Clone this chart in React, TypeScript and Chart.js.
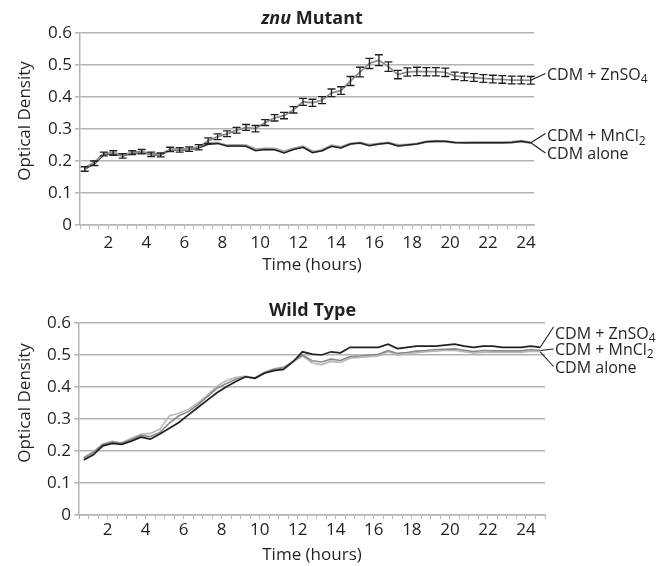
import React, { useEffect, useRef } from 'react';
import { Chart, registerables } from 'chart.js';

Chart.register(...registerables);

const FONT = '"Open Sans", "Noto Sans", sans-serif';
const INK = '#231f20';
const GRID = '#b4b4b4';

// ---------- znu Mutant (top panel) ----------
const znuTimes = [
  0.75, 1.25, 1.75, 2.25, 2.75, 3.25, 3.75, 4.25, 4.75, 5.25,
  5.75, 6.25, 6.75, 7.25, 7.75, 8.25, 8.75, 9.25, 9.75, 10.25,
  10.75, 11.25, 11.75, 12.25, 12.75, 13.25, 13.75, 14.25, 14.75, 15.25,
  15.75, 16.25, 16.75, 17.25, 17.75, 18.25, 18.75, 19.25, 19.75, 20.25,
  20.75, 21.25, 21.75, 22.25, 22.75, 23.25, 23.75, 24.25,
];
const znuZnSO4 = [
  0.175, 0.193, 0.222, 0.225, 0.216, 0.226, 0.229, 0.221, 0.219, 0.236,
  0.235, 0.237, 0.243, 0.263, 0.276, 0.285, 0.296, 0.305, 0.301, 0.32,
  0.335, 0.342, 0.36, 0.385, 0.382, 0.39, 0.413, 0.42, 0.45, 0.478,
  0.505, 0.515, 0.495, 0.47, 0.478, 0.48, 0.479, 0.479, 0.477, 0.466,
  0.463, 0.461, 0.458, 0.456, 0.455, 0.453, 0.453, 0.452,
];
const znuZnSO4Err = [
  0.007, 0.007, 0.006, 0.007, 0.007, 0.006, 0.007, 0.007, 0.006, 0.007,
  0.007, 0.007, 0.008, 0.009, 0.009, 0.009, 0.009, 0.009, 0.01, 0.009,
  0.01, 0.01, 0.01, 0.011, 0.011, 0.011, 0.012, 0.012, 0.014, 0.015,
  0.016, 0.017, 0.015, 0.013, 0.013, 0.013, 0.013, 0.013, 0.013, 0.012,
  0.012, 0.012, 0.012, 0.012, 0.012, 0.012, 0.012, 0.012,
];
const znuMnCl2 = [
  0.178, 0.195, 0.222, 0.225, 0.218, 0.226, 0.228, 0.222, 0.22, 0.236,
  0.236, 0.238, 0.243, 0.255, 0.256, 0.248, 0.249, 0.248, 0.236, 0.238,
  0.238, 0.229, 0.238, 0.245, 0.229, 0.233, 0.248, 0.243, 0.254, 0.257,
  0.25, 0.254, 0.257, 0.249, 0.251, 0.254, 0.26, 0.262, 0.261, 0.258,
  0.257, 0.258, 0.258, 0.258, 0.258, 0.259, 0.262, 0.257,
];
const znuAlone = [
  0.175, 0.19, 0.22, 0.223, 0.216, 0.224, 0.227, 0.221, 0.219, 0.235,
  0.234, 0.236, 0.241, 0.252, 0.255, 0.247, 0.247, 0.246, 0.232, 0.236,
  0.235, 0.225, 0.236, 0.243, 0.226, 0.232, 0.246, 0.241, 0.253, 0.256,
  0.248, 0.253, 0.256, 0.247, 0.25, 0.253, 0.26, 0.262, 0.262, 0.258,
  0.257, 0.257, 0.257, 0.257, 0.257, 0.258, 0.262, 0.257,
];

// ---------- Wild Type (bottom panel) ----------
const wtTimes = [
  0.75, 1.25, 1.75, 2.25, 2.75, 3.25, 3.75, 4.25, 4.75, 5.25,
  5.75, 6.25, 6.75, 7.25, 7.75, 8.25, 8.75, 9.25, 9.75, 10.25,
  10.75, 11.25, 11.75, 12.25, 12.75, 13.25, 13.75, 14.25, 14.75, 15.25,
  15.75, 16.25, 16.75, 17.25, 17.75, 18.25, 18.75, 19.25, 19.75, 20.25,
  20.75, 21.25, 21.75, 22.25, 22.75, 23.25, 23.75, 24.25, 24.75,
];
const wtZnSO4 = [
  0.172, 0.188, 0.216, 0.224, 0.221, 0.231, 0.243, 0.237, 0.253, 0.271,
  0.289, 0.313, 0.336, 0.359, 0.382, 0.401, 0.417, 0.432, 0.427, 0.443,
  0.451, 0.455, 0.479, 0.51, 0.503, 0.5, 0.51, 0.507, 0.524, 0.524,
  0.524, 0.524, 0.534, 0.52, 0.524, 0.528, 0.528, 0.528, 0.531, 0.534,
  0.528, 0.524, 0.528, 0.528, 0.524, 0.524, 0.524, 0.528, 0.524,
];
const wtMnCl2 = [
  0.178, 0.195, 0.22, 0.228, 0.224, 0.236, 0.248, 0.245, 0.258, 0.287,
  0.31, 0.323, 0.344, 0.37, 0.396, 0.411, 0.424, 0.432, 0.428, 0.445,
  0.455, 0.46, 0.48, 0.5, 0.482, 0.478, 0.487, 0.483, 0.495, 0.497,
  0.5, 0.502, 0.514, 0.505, 0.508, 0.512, 0.514, 0.517, 0.518, 0.519,
  0.515, 0.511, 0.514, 0.513, 0.513, 0.513, 0.513, 0.517, 0.514,
];
const wtAlone = [
  0.18, 0.198, 0.222, 0.23, 0.226, 0.24, 0.252, 0.255, 0.268, 0.31,
  0.318, 0.33, 0.35, 0.375, 0.403, 0.42, 0.43, 0.434, 0.428, 0.446,
  0.457, 0.462, 0.478, 0.497, 0.475, 0.47, 0.48, 0.477, 0.49, 0.492,
  0.495, 0.497, 0.51, 0.5, 0.503, 0.507, 0.51, 0.512, 0.514, 0.514,
  0.51, 0.506, 0.508, 0.508, 0.508, 0.508, 0.508, 0.512, 0.51,
];

// Series label text: main part + subscript
const ZN = { main: 'CDM + ZnSO', sub: '4' };
const MN = { main: 'CDM + MnCl', sub: '2' };
const ALONE = { main: 'CDM alone', sub: '' };
const yMax = 0.6;
const yStep = 0.1;

type Label = { main: string; sub: string };
type EndLabel = { idx: number; label: Label; textY: number; leaderY: number };
type PanelCfg = {
  width: number;
  height: number;
  top: number;
  plotLeft: number;
  plotRight: number;
  plotTop: number;
  plotBottom: number;
  xMax: number;
  titleParts: { text: string; italic: boolean }[];
  titleX: number;
  titleY: number;
  yTitleX: number;
  yTitleY: number;
  xTitleX: number;
  xTitleY: number;
  xTickPad: number;
  labelGap: number;
  times: number[];
  series: { values: number[]; color: string; width: number }[];
  err?: { idx: number; values: number[] };
  endLabels: EndLabel[];
};

function makeDecor(cfg: PanelCfg) {
  return {
    id: 'decor',
    afterDatasetsDraw(chart: any) {
      const ctx = chart.ctx as CanvasRenderingContext2D;
      if (cfg.err) {
        const meta = chart.getDatasetMeta(cfg.err.idx);
        const ys = chart.scales.y;
        const vals = cfg.series[cfg.err.idx].values;
        ctx.save();
        ctx.strokeStyle = INK;
        ctx.lineWidth = 1.3;
        meta.data.forEach((pt: any, i: number) => {
          const e = cfg.err!.values[i];
          const m = vals[i];
          const y1 = ys.getPixelForValue(m + e);
          const y2 = ys.getPixelForValue(m - e);
          const x = pt.x;
          ctx.beginPath();
          ctx.moveTo(x, y1);
          ctx.lineTo(x, y2);
          ctx.moveTo(x - 4, y1);
          ctx.lineTo(x + 4, y1);
          ctx.moveTo(x - 4, y2);
          ctx.lineTo(x + 4, y2);
          ctx.stroke();
        });
        ctx.restore();
      }
    },
    afterDraw(chart: any) {
      const ctx = chart.ctx as CanvasRenderingContext2D;
      const area = chart.chartArea;
      ctx.save();
      ctx.fillStyle = INK;
      ctx.strokeStyle = INK;
      ctx.textBaseline = 'middle';

      // Main title (mixed bold / bold italic)
      const fonts = cfg.titleParts.map((p) => `${p.italic ? 'italic ' : ''}bold 18px ${FONT}`);
      let total = 0;
      const widths = cfg.titleParts.map((p, i) => {
        ctx.font = fonts[i];
        const w = ctx.measureText(p.text).width;
        total += w;
        return w;
      });
      let tx = cfg.titleX - total / 2;
      ctx.textAlign = 'left';
      cfg.titleParts.forEach((p, i) => {
        ctx.font = fonts[i];
        ctx.fillText(p.text, tx, cfg.titleY);
        tx += widths[i];
      });

      // Axis titles
      ctx.font = `17px ${FONT}`;
      ctx.textAlign = 'center';
      ctx.fillText('Time (hours)', cfg.xTitleX, cfg.xTitleY);
      ctx.save();
      ctx.translate(cfg.yTitleX, cfg.yTitleY);
      ctx.rotate(-Math.PI / 2);
      ctx.fillText('Optical Density', 0, 0);
      ctx.restore();

      // End labels with leader lines
      const textX = area.right + cfg.labelGap;
      cfg.endLabels.forEach((lab) => {
        const meta = chart.getDatasetMeta(lab.idx);
        const last = meta.data[meta.data.length - 1];
        ctx.lineWidth = 1.1;
        ctx.beginPath();
        ctx.moveTo(last.x, last.y);
        ctx.lineTo(textX - 1.5, lab.leaderY);
        ctx.stroke();
        ctx.textAlign = 'left';
        ctx.font = `16px ${FONT}`;
        ctx.fillText(lab.label.main, textX, lab.textY);
        if (lab.label.sub) {
          const w = ctx.measureText(lab.label.main).width;
          ctx.font = `12px ${FONT}`;
          ctx.fillText(lab.label.sub, textX + w, lab.textY + 5);
        }
      });
      ctx.restore();
    },
  };
}

function Panel({ cfg }: { cfg: PanelCfg }) {
  const ref = useRef<HTMLCanvasElement | null>(null);
  useEffect(() => {
    if (!ref.current) return;
    const datasets = cfg.series.map((s) => ({
      data: cfg.times.map((t, i) => ({ x: t, y: s.values[i] })),
      borderColor: s.color,
      backgroundColor: s.color,
      borderWidth: s.width,
      pointRadius: 0,
      tension: 0,
      fill: false,
    }));
    const tickFont = { family: FONT, size: 17 };
    const chart = new Chart(ref.current, {
      type: 'line',
      data: { datasets },
      plugins: [makeDecor(cfg)],
      options: {
        responsive: false,
        animation: false,
        devicePixelRatio: 1,
        events: [],
        layout: {
          padding: { left: 0, right: cfg.width - cfg.plotRight, top: cfg.plotTop, bottom: 0 },
        },
        plugins: {
          legend: { display: false },
          tooltip: { enabled: false },
          title: { display: false },
        },
        scales: {
          x: {
            type: 'linear',
            min: 0.5,
            max: cfg.xMax,
            afterBuildTicks: (s: any) => {
              const t: { value: number }[] = [];
              for (let k = 1; k * 0.5 <= cfg.xMax + 1e-9; k++) t.push({ value: k * 0.5 });
              s.ticks = t;
            },
            afterFit: (s: any) => {
              s.height = cfg.height - cfg.plotBottom;
            },
            ticks: {
              autoSkip: false,
              maxRotation: 0,
              minRotation: 0,
              padding: cfg.xTickPad,
              color: INK,
              font: tickFont,
              callback: (v: any) => {
                const n = Number(v);
                return Math.abs(n - Math.round(n)) < 1e-6 && Math.round(n) % 2 === 0 && n > 0
                  ? String(Math.round(n))
                  : '';
              },
            },
            grid: { drawOnChartArea: false, drawTicks: true, tickLength: 4, color: GRID, lineWidth: 1 },
            border: { display: true, color: GRID, width: 1.5 },
          },
          y: {
            min: 0,
            max: yMax,
            afterFit: (s: any) => {
              s.width = cfg.plotLeft;
            },
            ticks: {
              stepSize: yStep,
              padding: 3,
              color: INK,
              font: tickFont,
              callback: (v: any) => (Number(v) === 0 ? '0' : Number(v).toFixed(1)),
            },
            grid: { color: GRID, lineWidth: 1.5, tickLength: 5, drawTicks: true },
            border: { display: true, color: GRID, width: 1.5 },
          },
        },
      } as any,
    });
    return () => chart.destroy();
  }, [cfg]);
  return (
    <canvas
      ref={ref}
      width={cfg.width}
      height={cfg.height}
      style={{ position: 'absolute', left: 0, top: cfg.top, width: cfg.width, height: cfg.height }}
    />
  );
}

const topCfg: PanelCfg = {
  width: 663,
  height: 280,
  top: 0,
  plotLeft: 80,
  plotRight: 534,
  plotTop: 33,
  plotBottom: 225,
  xMax: 24.42,
  titleParts: [
    { text: 'znu', italic: true },
    { text: ' Mutant', italic: false },
  ],
  titleX: 312,
  titleY: 19,
  yTitleX: 25,
  yTitleY: 121,
  xTitleX: 312,
  xTitleY: 265,
  xTickPad: 4,
  labelGap: 13,
  times: znuTimes,
  series: [
    { values: znuZnSO4, color: '#8e8e8e', width: 1.8 },
    { values: znuAlone, color: INK, width: 1.5 },
    { values: znuMnCl2, color: '#a0a0a0', width: 2.6 },
  ],
  err: { idx: 0, values: znuZnSO4Err },
  endLabels: [
    { idx: 0, label: ZN, textY: 75, leaderY: 73.5 },
    { idx: 2, label: MN, textY: 136.5, leaderY: 133.5 },
    { idx: 1, label: ALONE, textY: 154, leaderY: 153 },
  ],
};

const bottomCfg: PanelCfg = {
  width: 663,
  height: 286,
  top: 280,
  plotLeft: 79,
  plotRight: 545,
  plotTop: 43,
  plotBottom: 235,
  xMax: 25,
  titleParts: [{ text: 'Wild Type', italic: false }],
  titleX: 312.5,
  titleY: 31,
  yTitleX: 25,
  yTitleY: 123,
  xTitleX: 312,
  xTitleY: 275,
  xTickPad: 1,
  labelGap: 10,
  times: wtTimes,
  series: [
    { values: wtZnSO4, color: INK, width: 1.7 },
    { values: wtMnCl2, color: '#8a8a8a', width: 1.6 },
    { values: wtAlone, color: '#b9b9b9', width: 1.6 },
  ],
  endLabels: [
    { idx: 0, label: ZN, textY: 54, leaderY: 47 },
    { idx: 1, label: MN, textY: 70, leaderY: 69 },
    { idx: 2, label: ALONE, textY: 88, leaderY: 86.5 },
  ],
};

export default function App() {
  return (
    <div style={{ position: 'absolute', left: 0, top: 0, width: 663, height: 566, background: '#fff' }}>
      <Panel cfg={topCfg} />
      <Panel cfg={bottomCfg} />
    </div>
  );
}
